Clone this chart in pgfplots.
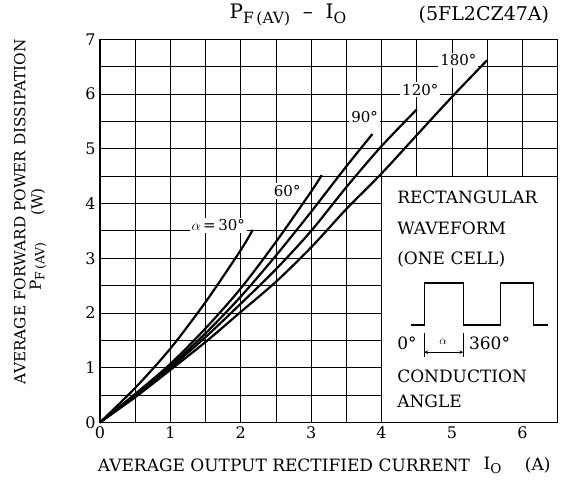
\documentclass[border=0pt]{standalone}
\usepackage{pgfplots}
\pgfplotsset{compat=1.18}
\usepackage{fontspec}
\setmainfont{DejaVu Serif}
\newcommand{\fs}[1]{\fontsize{#1}{#1}\selectfont}
\begin{document}
\begin{tikzpicture}
\begin{axis}[
  scale only axis, width=457.6pt, height=383pt,
  xmin=0, xmax=6.5, ymin=0, ymax=7,
  xtick={0,...,6}, ytick={0,...,7},
  minor xtick={0.5,1.5,...,6.5}, minor ytick={0.5,1.5,...,6.5},
  grid=both,
  major grid style={black, line width=0.9pt},
  minor grid style={black, line width=0.9pt},
  major tick length=0pt, minor tick length=0pt,
  axis line style={line width=1.5pt},
  /pgf/number format/assume math mode=true,
  tick label style={font=\fs{16}},
  xticklabel style={yshift=-1pt},
  yticklabel style={xshift=-1pt},
  clip=false,
]
% bounding box to match reference proportions
\path (axis cs:-1.42,-1.168) rectangle (axis cs:6.577,7.72);
% inset box
\draw[line width=1pt, fill=white] (axis cs:4,0) rectangle (axis cs:6.5,4.5);

% curves
\addplot[line width=2.2pt, smooth] coordinates {(0,0) (0.5,0.63) (1,1.35) (1.5,2.2) (2,3.15) (2.17,3.52)};
\addplot[line width=2.2pt, smooth] coordinates {(0,0) (0.5,0.52) (1,1.07) (1.5,1.72) (2,2.45) (2.5,3.3) (3,4.22) (3.15,4.52)};
\addplot[line width=2.2pt, smooth] coordinates {(0,0) (0.5,0.5) (1,1.03) (1.5,1.63) (2,2.3) (2.5,3.05) (3,3.85) (3.5,4.68) (3.87,5.27)};
\addplot[line width=2.2pt, smooth] coordinates {(0,0) (0.5,0.49) (1,1.0) (1.5,1.56) (2,2.17) (2.5,2.8) (3,3.5) (3.5,4.3) (4,5.05) (4.5,5.72)};
\addplot[line width=2.2pt, smooth] coordinates {(0,0) (0.5,0.46) (1,0.96) (1.5,1.47) (2,2.02) (2.5,2.57) (3,3.2) (3.5,3.9) (4,4.55) (4.5,5.25) (5,5.95) (5.5,6.62)};

% curve labels
\node[fill=white, inner sep=2pt, font=\fs{15}] at (axis cs:1.68,3.6) {$\alpha$\,=\,30\textdegree};
\node[fill=white, inner sep=2pt, font=\fs{15}] at (axis cs:2.66,4.23) {60\textdegree};
\node[fill=white, inner sep=2pt, font=\fs{15}] at (axis cs:3.76,5.58) {90\textdegree};
\node[fill=white, inner sep=2pt, font=\fs{15}] at (axis cs:4.55,6.08) {120\textdegree};
\node[fill=white, inner sep=2pt, font=\fs{15}] at (axis cs:5.09,6.62) {180\textdegree};

% inset content
\node[anchor=west, font=\fs{17}, inner sep=0pt] at (axis cs:4.22,4.115) {RECTANGULAR};
\node[anchor=west, font=\fs{17}, inner sep=0pt] at (axis cs:4.22,3.55) {WAVEFORM};
\node[anchor=west, font=\fs{17}, inner sep=0pt] at (axis cs:4.22,2.98) {(ONE CELL)};
\node[anchor=west, font=\fs{17}, inner sep=0pt] at (axis cs:4.22,0.85) {CONDUCTION};
\node[anchor=west, font=\fs{17}, inner sep=0pt] at (axis cs:4.22,0.39) {ANGLE};
\draw[line width=1.5pt] (axis cs:4.413,1.776) -- (axis cs:4.607,1.776) -- (axis cs:4.607,2.55) -- (axis cs:5.161,2.55) -- (axis cs:5.161,1.776) -- (axis cs:5.692,1.776) -- (axis cs:5.692,2.55) -- (axis cs:6.155,2.55) -- (axis cs:6.155,1.776) -- (axis cs:6.368,1.776);
\draw[line width=0.7pt] (axis cs:4.607,1.64) -- (axis cs:4.607,1.20);
\draw[line width=0.7pt] (axis cs:5.161,1.64) -- (axis cs:5.161,1.20);
\draw[line width=0.7pt, <->, >=stealth] (axis cs:4.607,1.283) -- (axis cs:5.161,1.283);
\node[font=\fs{17}] at (axis cs:4.36,1.44) {0\textdegree};
\node[font=\fs{13}] at (axis cs:4.876,1.48) {$\alpha$};
\node[anchor=west, font=\fs{17}, inner sep=0pt] at (axis cs:5.24,1.44) {360\textdegree};

% title
\node[font=\fs{20}] at (axis cs:2.67,7.45) {P\raisebox{-0.45ex}{\fs{15.5}F\,(AV)}\ \ --\ \ I\raisebox{-0.45ex}{\fs{15.5}O}};
\node[anchor=east, font=\fs{19}] at (axis cs:6.43,7.45) {(5FL2CZ47A)};

% x label
\node[anchor=west, font=\fs{17}] at (axis cs:-0.08,-0.78) {AVERAGE OUTPUT RECTIFIED CURRENT};
\node[anchor=west, font=\fs{17}] at (axis cs:5.4,-0.78) {I\raisebox{-0.45ex}{\fs{13.5}O}};
\node[anchor=east, font=\fs{17}] at (axis cs:6.45,-0.78) {(A)};

% y label
\node[rotate=90, font=\fs{15.3}] at (axis cs:-1.14,3.85) {AVERAGE FORWARD POWER DISSIPATION};
\node[rotate=90, font=\fs{15.3}] at (axis cs:-0.88,2.85) {P\raisebox{-0.45ex}{\fs{12.5}F\,(AV)}};
\node[rotate=90, font=\fs{15.3}] at (axis cs:-0.88,4.03) {(W)};
\end{axis}
\end{tikzpicture}
\end{document}
